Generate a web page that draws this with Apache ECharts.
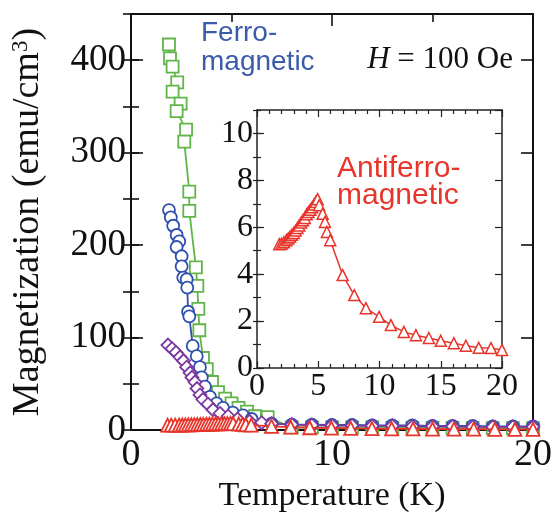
<!DOCTYPE html>
<html>
<head>
<meta charset="utf-8">
<script src="https://cdn.jsdelivr.net/npm/echarts@6/dist/echarts.min.js"></script>
<style>html,body{margin:0;padding:0;background:#fff}#c{width:555px;height:518px}</style>
</head>
<body>
<div id="c"></div>
<script>
// ---- Data ----
// Green squares (ferromagnetic sample 1)
const greenT = [1.89,1.94,2.07,2.30,2.07,2.47,2.27,2.74,2.65,2.90,2.90,3.23,3.30,3.35,3.40,3.58,3.77,4.03,4.33,4.68,5.00,5.35,5.77,6.17,6.80,8.0,9,10,11,12,13,14,15,16,17,18,19,20];
const greenM = [417,402,393,376,366,353,345,325,312,258,237,176,156,131,108,78,66,52,41,34,29,24,20,15,14,3,3,3,3,3,2.5,2.5,2.5,2.5,2,2,2,2];
// Blue circles (ferromagnetic sample 2)
const blueT = [1.89,1.98,2.10,2.27,2.40,2.27,2.52,2.52,2.60,2.77,2.80,2.84,2.90,3.07,3.27,3.43,3.52,3.68,3.93,4.26,4.58,5.07,5.57,6.0,7,8,9,10,11,12,13,14,15,16,17,18,19,20];
const blueM = [238,230,221,211,204,198,188,177,165,163,154,128,123,91,80,68,57,47,36,29,24,19,16,12,7,6,6,5.5,5.5,5,5,5,4.5,4.5,4.5,4,4,4];
// Purple diamonds
const purpleT = [1.84,2.04,2.24,2.44,2.61,2.77,2.94,3.03,3.18,3.28,3.43,3.58,3.83,4.08,4.43,4.83,5.3,5.9,6.5,7,8,9,10,11,12,13,14,15,16,17,18,19,20];
const purpleM = [92,88,84,79,75,68,62,57,52,45,38,33,28,22,18,15,12,9.5,8,7,6,5.5,5,5,4.5,4.5,4,4,4,3.5,3.5,3.5,3.5];
// Red triangles (antiferromagnetic), same data in main plot and inset
const redT = [1.82,2.0,2.2,2.4,2.55,2.7,2.85,3.0,3.15,3.3,3.45,3.6,3.75,3.9,4.05,4.2,4.35,4.5,4.65,4.8,4.95,5.08,5.36,5.55,5.71,5.98,6.99,7.94,8.89,9.97,10.93,11.99,12.97,14.03,15.0,16.07,17.05,18.1,19.1,20.0];
const redM = [5.28,5.30,5.36,5.45,5.52,5.60,5.68,5.76,5.86,5.97,6.08,6.20,6.30,6.40,6.55,6.65,6.75,6.85,6.97,7.08,7.20,6.94,6.58,6.23,5.80,5.45,3.96,3.11,2.55,2.18,1.83,1.54,1.40,1.28,1.16,1.06,0.95,0.86,0.85,0.77];
// Axis ticks
const mainXTicks = [0, 10, 20];
const mainYTicks = [0, 100, 200, 300, 400];
const insetXTicks = [0, 5, 10, 15, 20];
const insetYTicks = [0, 2, 4, 6, 8, 10];

const GREEN = '#62b548', BLUE = '#2f4fae', PURPLE = '#7a38a0', RED = '#e8352b';
const SERIF = '"Liberation Serif","Times New Roman",serif';
const SANS = '"Liberation Sans",Arial,sans-serif';

function pairs(t, m) { return t.map((v, i) => [v, m[i]]); }

function xAx(grid, pos, opts) {
  return Object.assign({
    type: 'value', gridIndex: grid, position: pos,
    axisLine: { show: true, onZero: false, lineStyle: { color: '#111', width: 2 } },
    splitLine: { show: false },
  }, opts);
}

const chart = echarts.init(document.getElementById('c'), null, { renderer: 'canvas' });

const mainTickStyle = { color: '#111', width: 1.6 };
const insetTickStyle = { color: '#222', width: 1.2 };

const option = {
  animation: false,
  backgroundColor: '#fff',
  grid: [
    { left: 131, right: 22, top: 14, bottom: 79 },
    { left: 257, right: 53, top: 110, bottom: 150, show: true, backgroundColor: '#fff', borderWidth: 0 }
  ],
  xAxis: [
    // main bottom
    xAx(0, 'bottom', {
      min: mainXTicks[0], max: mainXTicks[mainXTicks.length - 1], interval: 10,
      axisTick: { show: true, inside: true, length: 12, lineStyle: mainTickStyle },
      minorTick: { show: true, splitNumber: 2, length: 8, lineStyle: mainTickStyle },
      axisLabel: { show: true, margin: 6, color: '#111', fontFamily: SERIF, fontSize: 38,
                   formatter: v => mainXTicks.includes(v) ? String(v) : '' },
      name: 'Temperature (K)', nameLocation: 'middle', nameGap: 46,
      nameTextStyle: { color: '#111', fontFamily: SERIF, fontSize: 34 }
    }),
    // main top
    xAx(0, 'top', {
      min: 0, max: 20, interval: 10,
      axisTick: { show: true, inside: true, length: 12, lineStyle: mainTickStyle },
      minorTick: { show: true, splitNumber: 2, length: 8, lineStyle: mainTickStyle },
      axisLabel: { show: false }
    }),
    // inset bottom
    xAx(1, 'bottom', {
      min: insetXTicks[0], max: insetXTicks[insetXTicks.length - 1], interval: 5,
      axisLine: { show: true, onZero: false, lineStyle: { color: '#222', width: 1.5 } },
      axisTick: { show: true, inside: true, length: 7, lineStyle: insetTickStyle },
      minorTick: { show: true, splitNumber: 5, length: 4, lineStyle: insetTickStyle },
      axisLabel: { show: true, margin: 3, color: '#111', fontFamily: SERIF, fontSize: 32 }
    }),
    // inset top
    xAx(1, 'top', {
      min: 0, max: 20, interval: 5,
      axisLine: { show: true, onZero: false, lineStyle: { color: '#222', width: 1.5 } },
      axisTick: { show: true, inside: true, length: 7, lineStyle: insetTickStyle },
      minorTick: { show: true, splitNumber: 5, length: 4, lineStyle: insetTickStyle },
      axisLabel: { show: false }
    })
  ],
  yAxis: [
    // 0 main left major
    {
      type: 'value', gridIndex: 0, position: 'left', min: 0, max: 450, interval: 100,
      axisLine: { show: true, onZero: false, lineStyle: { color: '#111', width: 2 } },
      axisTick: { show: true, inside: true, length: 12, lineStyle: mainTickStyle },
      splitLine: { show: false },
      axisLabel: { show: true, margin: 5, color: '#111', fontFamily: SERIF, fontSize: 37, showMaxLabel: false,
                   formatter: v => mainYTicks.includes(v) ? String(v) : '' },
      name: 'Magnetization (emu/cm{sup|3})', nameLocation: 'middle', nameGap: 84,
      nameTextStyle: { color: '#111', fontFamily: SERIF, fontSize: 38,
        rich: { sup: { fontFamily: SERIF, fontSize: 23, verticalAlign: 'top', color: '#111' } } }
    },
    // 1 main left minor
    {
      type: 'value', gridIndex: 0, position: 'left', min: 0, max: 450, interval: 50,
      axisLine: { show: false }, splitLine: { show: false }, axisLabel: { show: false },
      axisTick: { show: true, inside: true, length: 8, lineStyle: mainTickStyle }
    },
    // 2 main right major
    {
      type: 'value', gridIndex: 0, position: 'right', min: 0, max: 450, interval: 100,
      axisLine: { show: true, onZero: false, lineStyle: { color: '#111', width: 2 } },
      axisTick: { show: true, inside: true, length: 12, lineStyle: mainTickStyle },
      splitLine: { show: false }, axisLabel: { show: false }
    },
    // 3 main right minor
    {
      type: 'value', gridIndex: 0, position: 'right', min: 0, max: 450, interval: 50,
      axisLine: { show: false }, splitLine: { show: false }, axisLabel: { show: false },
      axisTick: { show: true, inside: true, length: 8, lineStyle: mainTickStyle }
    },
    // 4 inset left major
    {
      type: 'value', gridIndex: 1, position: 'left', min: 0, max: 11, interval: 2,
      axisLine: { show: true, onZero: false, lineStyle: { color: '#222', width: 1.5 } },
      axisTick: { show: true, inside: true, length: 7, lineStyle: insetTickStyle },
      splitLine: { show: false },
      axisLabel: { show: true, margin: 4, color: '#111', fontFamily: SERIF, fontSize: 32, showMaxLabel: false,
                   formatter: v => insetYTicks.includes(v) ? String(v) : '' }
    },
    // 5 inset left minor
    {
      type: 'value', gridIndex: 1, position: 'left', min: 0, max: 11, interval: 1,
      axisLine: { show: false }, splitLine: { show: false }, axisLabel: { show: false },
      axisTick: { show: true, inside: true, length: 4, lineStyle: insetTickStyle }
    },
    // 6 inset right major
    {
      type: 'value', gridIndex: 1, position: 'right', min: 0, max: 11, interval: 2,
      axisLine: { show: true, onZero: false, lineStyle: { color: '#222', width: 1.5 } },
      axisTick: { show: true, inside: true, length: 7, lineStyle: insetTickStyle },
      splitLine: { show: false }, axisLabel: { show: false }
    },
    // 7 inset right minor
    {
      type: 'value', gridIndex: 1, position: 'right', min: 0, max: 11, interval: 1,
      axisLine: { show: false }, splitLine: { show: false }, axisLabel: { show: false },
      axisTick: { show: true, inside: true, length: 4, lineStyle: insetTickStyle }
    }
  ],
  series: [
    {
      type: 'line', xAxisIndex: 0, yAxisIndex: 0, data: pairs(greenT, greenM),
      symbol: 'rect', symbolSize: 12, showAllSymbol: true,
      lineStyle: { color: GREEN, width: 1.8 },
      itemStyle: { color: '#fff', borderColor: GREEN, borderWidth: 1.8 }, z: 3
    },
    {
      type: 'line', xAxisIndex: 0, yAxisIndex: 0, data: pairs(blueT, blueM),
      symbol: 'circle', symbolSize: 12, showAllSymbol: true,
      lineStyle: { color: BLUE, width: 1.8 },
      itemStyle: { color: '#fff', borderColor: BLUE, borderWidth: 1.8 }, z: 4
    },
    {
      type: 'line', xAxisIndex: 0, yAxisIndex: 0, data: pairs(purpleT, purpleM),
      symbol: 'diamond', symbolSize: 13, showAllSymbol: true,
      lineStyle: { color: PURPLE, width: 1.8 },
      itemStyle: { color: '#fff', borderColor: PURPLE, borderWidth: 1.8 }, z: 5
    },
    {
      type: 'line', xAxisIndex: 0, yAxisIndex: 0, data: pairs(redT, redM),
      symbol: 'triangle', symbolSize: 13, showAllSymbol: true,
      lineStyle: { color: RED, width: 1.8 },
      itemStyle: { color: '#fff', borderColor: RED, borderWidth: 1.8 }, z: 6
    },
    {
      type: 'line', xAxisIndex: 2, yAxisIndex: 4, data: pairs(redT, redM),
      symbol: 'triangle', symbolSize: 11, showAllSymbol: true,
      lineStyle: { color: RED, width: 1.5 },
      itemStyle: { color: '#fff', borderColor: RED, borderWidth: 1.5 }, z: 6
    }
  ],
  graphic: [
    {
      type: 'text', left: 201, top: 19, z: 100,
      style: { text: 'Ferro-\nmagnetic', fill: '#3b5bab', font: '28px ' + SANS, lineHeight: 29 }
    },
    {
      type: 'text', right: 42, top: 44, z: 100,
      style: {
        text: '{i|H} = 100 Oe', fill: '#111', font: '31px ' + SERIF,
        rich: { i: { fontStyle: 'italic', fontFamily: SERIF, fontSize: 31, fill: '#111' } }
      }
    },
    {
      type: 'text', left: 337, top: 154, z: 100,
      style: { text: 'Antiferro-\nmagnetic', fill: RED, font: '30px ' + SANS, lineHeight: 27 }
    }
  ]
};
chart.setOption(option);
</script>
</body>
</html>
